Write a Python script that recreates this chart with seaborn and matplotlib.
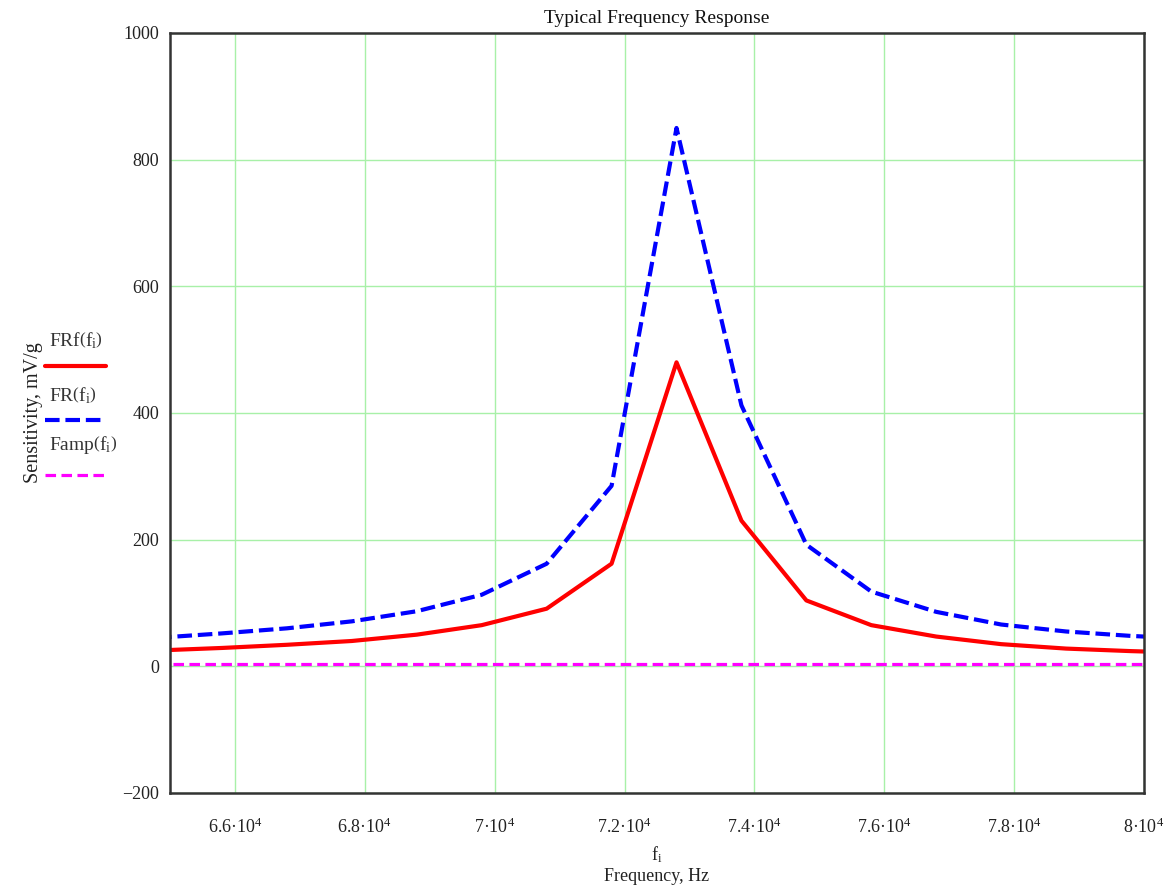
import matplotlib
matplotlib.use("Agg")
import matplotlib.pyplot as plt
from matplotlib.lines import Line2D
from matplotlib.ticker import FuncFormatter
import pandas as pd
import seaborn as sns

# frequency points f_i, Hz
freq = [64800, 65800, 66800, 67800, 68800, 69800, 70800, 71800, 72800,
        73800, 74800, 75800, 76800, 77800, 78800, 79800, 80800]
# sensitivity, mV/g
frf = [25, 29, 34, 40, 50, 65, 91, 162, 480, 230, 104, 65, 47, 35, 28, 24, 21]
fr = [45, 52, 60, 71, 87, 113, 162, 285, 850, 412, 192, 118, 86, 66, 55, 48, 43]
famp = [3, 3, 3, 3, 3, 3, 3, 3, 3, 3, 3, 3, 3, 3, 3, 3, 3]

x_ticks = [66000, 68000, 70000, 72000, 74000, 76000, 78000, 80000]
y_ticks = [-200, 0, 200, 400, 600, 800, 1000]

sns.set_theme(style="white")
plt.rcParams['font.family'] = ['Liberation Serif', 'DejaVu Serif']
plt.rcParams['mathtext.fontset'] = 'custom'
plt.rcParams['mathtext.rm'] = 'Liberation Serif'
plt.rcParams['mathtext.it'] = 'Liberation Serif'

df = pd.DataFrame({'f': freq, 'FRf': frf, 'FR': fr, 'Famp': famp})

fig = plt.figure(figsize=(11.76, 8.89), dpi=100)
ax = fig.add_axes([0.1446, 0.108, 0.8282, 0.8549])

blue_dash = (0, (3.5, 1.4))
mag_dash = (0, (3.3, 1.7))
sns.lineplot(data=df, x='f', y='FRf', ax=ax, color='#ff0000', lw=3)
sns.lineplot(data=df, x='f', y='FR', ax=ax, color='#0000ff', lw=3)
ax.lines[-1].set_linestyle(blue_dash)
sns.lineplot(data=df, x='f', y='Famp', ax=ax, color='#ff00ff', lw=2.3)
ax.lines[-1].set_linestyle(mag_dash)

ax.set_xlim(65000, 80000)
ax.set_ylim(-200, 1000)
ax.set_xticks(x_ticks)
ax.set_yticks(y_ticks)


def fmt_x(v, pos):
    m = v / 1e4
    return ('%g' % m) + '\u00b710$^{4}$'


ax.xaxis.set_major_formatter(FuncFormatter(fmt_x))
ax.yaxis.set_major_formatter(FuncFormatter(lambda v, p: ('\u2212%d' % -v) if v < 0 else '%d' % v))
ax.tick_params(length=0, labelsize=13, colors='#222222')
ax.tick_params(axis='x', pad=18)
ax.tick_params(axis='y', pad=8)
ax.grid(True, color='#a8f0a8', lw=1)
for s in ax.spines.values():
    s.set_color('#333333')
    s.set_linewidth(1.8)

ax.set_title('Typical Frequency Response', fontsize=14, pad=7, color='#111111')
ax.set_xlabel('$\\mathregular{f_i}$\nFrequency, Hz', fontsize=13, labelpad=5, color='#222222')
ax.set_ylabel('Sensitivity, mV/g', fontsize=14.5, labelpad=57, color='#222222')

# legend on the left: label above its line sample
leg = [('FRf', '#ff0000', '-', 3, 0.617, 0.588),
       ('FR', '#0000ff', blue_dash, 3, 0.555, 0.528),
       ('Famp', '#ff00ff', mag_dash, 2.3, 0.499, 0.466)]
for name, c, ls, w, ty, ly in leg:
    fig.text(0.042, ty, name + '$\\left(\\mathregular{f_{i}}\\right)$', fontsize=14,
             color='#333333', va='center', ha='left')
    fig.add_artist(Line2D([0.038, 0.09], [ly, ly], color=c, lw=w, ls=ls))

fig.savefig('out.png', dpi=100)
